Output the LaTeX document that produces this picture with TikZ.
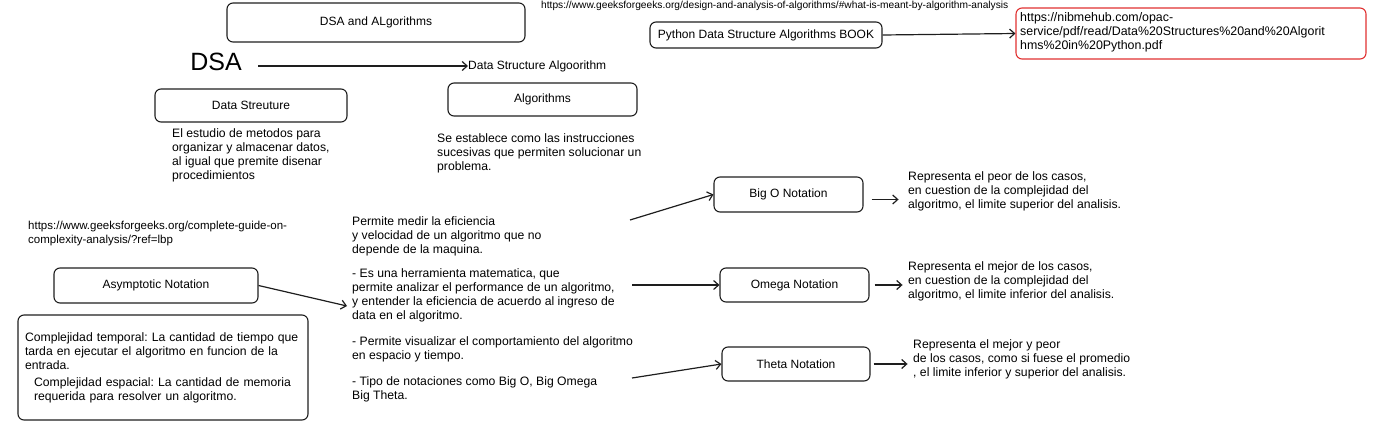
\documentclass[tikz,border=0pt]{standalone}
\usepackage{fontspec}
\setmainfont{Liberation Sans}
\usetikzlibrary{arrows.meta}
\definecolor{ink}{HTML}{1E1E1E}
\definecolor{alert}{HTML}{E03131}
\frenchspacing
\tikzset{
	box/.style={draw=ink, line width=1.1pt, rounded corners=6pt, inner sep=0pt, font=\fontsize{12}{14}\selectfont},
	note/.style={anchor=north west, align=left, inner sep=0pt, font=\fontsize{12.2}{14}\selectfont},
	link/.style={draw=ink, line width=1.2pt, -{Straight Barb[length=5pt,width=9pt]}}
}
\begin{document}
\begin{tikzpicture}[x=1pt,y=-1pt]
	\useasboundingbox (0,0) rectangle (1388,447);
	% titulo y enlaces de arriba
	\node[box, minimum width=298, minimum height=39] (dsaalg) at (376,22.5) {DSA and ALgorithms};
	\node[anchor=base west, inner sep=0pt, font=\fontsize{10.2}{12}\selectfont] (url1) at (541,8.5) {https://www.geeksforgeeks.org/design-and-analysis-of-algorithms/\#what-is-meant-by-algorithm-analysis};
	\node[inner sep=0pt, font=\fontsize{25}{30}\selectfont] (dsa) at (216,62) {DSA};
	\node[anchor=west, inner sep=0pt, font=\fontsize{12}{14}\selectfont] (dsaname) at (468,66) {Data Structure Algoorithm};
	\draw[link] (258,66) -- (dsaname.west);
	\node[box, minimum width=232, minimum height=26] (book) at (766,35) {Python Data Structure Algorithms BOOK};
	\node[box, draw=alert, minimum width=350, minimum height=51] (bookurl) at (1191,33.5) {};
	\node[note, font=\fontsize{12.4}{14}\selectfont] (bookurltxt) at (1020,12.5) {https://nibmehub.com/opac-\\service/pdf/read/Data\%20Structures\%20and\%20Algorit\\hms\%20in\%20Python.pdf};
	\draw[link] (book.east) -- (bookurl.west);
	% estructura y algoritmo
	\node[box, minimum width=192, minimum height=33] (ds) at (251,105.5) {Data Streuture};
	\node[note] (dstxt) at (172,128) {El estudio de metodos para\\organizar y almacenar datos,\\al igual que premite disenar\\procedimientos};
	\node[box, minimum width=189, minimum height=33] (alg) at (542.5,99.5) {Algorithms};
	\node[note] (algtxt) at (437,133) {Se establece como las instrucciones\\sucesivas que permiten solucionar un\\problema.};
	% notacion asintotica
	\node[note, font=\fontsize{11.5}{14}\selectfont] (url2) at (28,221) {https://www.geeksforgeeks.org/complete-guide-on-\\complexity-analysis/?ref=lbp};
	\node[box, minimum width=204, minimum height=35] (asym) at (156,285.5) {Asymptotic Notation};
	\node[box, minimum width=290, minimum height=105, align=left, text width=276, font=\fontsize{12.2}{14}\selectfont] (cplx) at (163,367.5) {Complejidad temporal: La cantidad de tiempo que\\tarda en ejecutar el algoritmo en funcion de la\\entrada.\\[3pt]\hspace*{9pt}Complejidad espacial: La cantidad de memoria\\\hspace*{9pt}requerida para resolver un algoritmo.};
	\node[note] (asymtxt) at (352,216.5) {Permite medir la eficiencia\\y velocidad de un algoritmo que no\\depende de la maquina.\\[10pt]- Es una herramienta matematica, que\\permite analizar el performance de un algoritmo,\\y entender la eficiencia de acuerdo al ingreso de\\data en el algoritmo.\\[12pt]- Permite visualizar el comportamiento del algoritmo\\en espacio y tiempo.\\[12pt]- Tipo de notaciones como Big O, Big Omega\\Big Theta.};
	\coordinate (asymin) at (347,306);
	\draw[link] (asym.east) -- (asymin);
	% las tres notaciones
	\node[box, minimum width=149, minimum height=35] (bigo) at (788.5,194.5) {Big O Notation};
	\node[box, minimum width=149, minimum height=34] (omega) at (794.5,285) {Omega Notation};
	\node[box, minimum width=148, minimum height=34] (theta) at (796,364) {Theta Notation};
	\coordinate (out1) at (630,220);
	\coordinate (out2) at (632,285);
	\coordinate (out3) at (632,378);
	\draw[link] (out1) -- (bigo.west);
	\draw[link] (out2) -- (omega.west);
	\draw[link] (out3) -- (theta.west);
	\node[note] (bigotxt) at (908,171) {Representa el peor de los casos,\\en cuestion de la complejidad del\\algoritmo, el limite superior del analisis.};
	\node[note] (omegatxt) at (908,261) {Representa el mejor de los casos,\\en cuestion de la complejidad del\\algoritmo, el limite inferior del analisis.};
	\node[note] (thetatxt) at (913,339) {Representa el mejor y peor\\de los casos, como si fuese el promedio\\, el limite inferior y superior del analisis.};
	\draw[link] (bigo.east)++(8,5) -- ++(27,0);
	\draw[link] (omega.east)++(5,0) -- ++(28,0);
	\draw[link] (theta.east)++(3,0) -- ++(34,0);
\end{tikzpicture}
\end{document}
